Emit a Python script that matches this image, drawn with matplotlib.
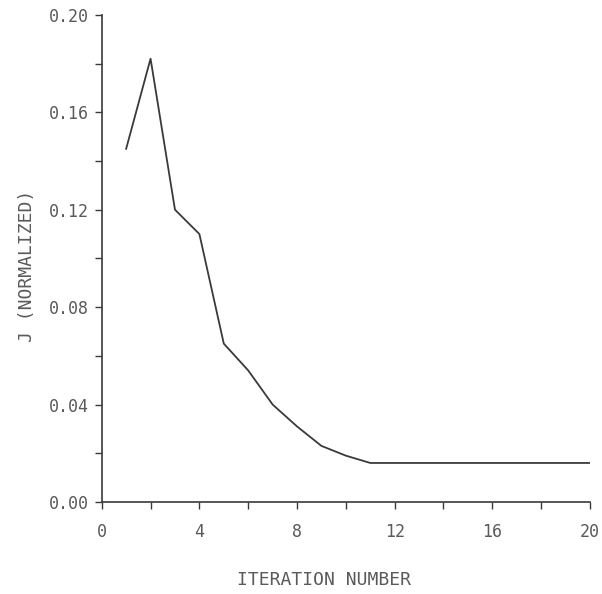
import matplotlib
matplotlib.use("Agg")
import matplotlib.pyplot as plt
from matplotlib.ticker import MultipleLocator, FixedLocator

iterations = [1, 2, 3, 4, 5, 6, 7, 8, 9, 10, 11, 12, 13, 14, 15, 16, 17, 18, 19, 20]
j_values = [0.145, 0.182, 0.120, 0.110, 0.065, 0.054, 0.040, 0.031, 0.023, 0.019,
            0.016, 0.016, 0.016, 0.016, 0.016, 0.016, 0.016, 0.016, 0.016, 0.016]
x_ticklabels = ["0", "4", "8", "12", "16", "20"]
y_ticklabels = ["0.00", "0.04", "0.08", "0.12", "0.16", "0.20"]

ink = "#3a3a3a"
txt = "#5a5a5a"
plt.rcParams['font.family'] = ['DejaVu Sans Mono', 'DejaVu Sans']

fig = plt.figure(figsize=(6.02, 5.94), dpi=100)
ax = fig.add_axes([0.169, 0.155, 0.811, 0.82])
ax.plot(iterations, j_values, color=ink, lw=1.3)

ax.set_xlim(0, 20)
ax.set_ylim(0, 0.20)
for s in ["top", "right"]:
    ax.spines[s].set_visible(False)
for s in ["left", "bottom"]:
    ax.spines[s].set_color(ink)
    ax.spines[s].set_linewidth(1.2)

ax.xaxis.set_major_locator(FixedLocator([0, 4, 8, 12, 16, 20]))
ax.xaxis.set_minor_locator(MultipleLocator(2))
ax.set_xticklabels(x_ticklabels)
ax.yaxis.set_major_locator(FixedLocator([0, 0.04, 0.08, 0.12, 0.16, 0.20]))
ax.yaxis.set_minor_locator(MultipleLocator(0.02))
ax.set_yticklabels(y_ticklabels)

ax.tick_params(which="both", direction="out", length=5, width=1.0, color=ink,
               labelcolor=txt, labelsize=12)
ax.tick_params(axis="x", which="both", pad=10)
ax.tick_params(axis="y", which="both", pad=4)

ax.set_xlabel("ITERATION NUMBER", color=txt, fontsize=13, va="center")
ax.xaxis.set_label_coords(0.455, -0.16)
ax.set_ylabel("J (NORMALIZED)", color=txt, fontsize=13)
ax.yaxis.set_label_coords(-0.135, 0.485)

fig.savefig("out.png", dpi=100, facecolor="white")
